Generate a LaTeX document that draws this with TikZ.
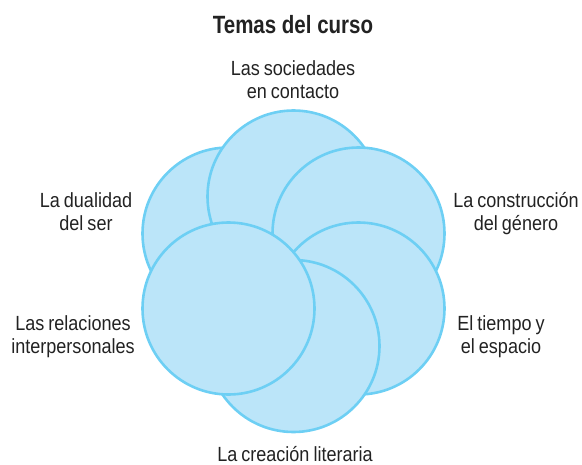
\documentclass[tikz,border=0pt]{standalone}
\usepackage{fontspec}
\setmainfont{Liberation Sans}
\newfontfamily\titlefont{Liberation Sans}[FakeStretch=0.82]
\newfontfamily\labelfont{Liberation Sans}[FakeStretch=0.88,WordSpace=0.8]
\definecolor{circfill}{HTML}{BBE5F9}
\definecolor{circline}{HTML}{6DCFF4}
\definecolor{txt}{HTML}{222222}
\begin{document}
\begin{tikzpicture}[x=1pt,y=-1pt,
  topic/.style={circle,draw=circline,fill=circfill,line width=2.6pt,minimum size=172pt,inner sep=0pt},
  lbl/.style={anchor=base,align=center,text=txt,font=\labelfont\fontsize{20.5}{23}\selectfont,inner sep=0pt},
  ttl/.style={anchor=base,text=txt,font=\titlefont\bfseries\fontsize{25}{28}\selectfont,inner sep=0pt}]
\useasboundingbox (0,0) rectangle (582,464);
% circles, back to front
\node[topic] (dualidad) at (228.5,233.5) {};
\node[topic] (sociedades) at (293.5,196.5) {};
\node[topic] (genero) at (358.5,233.5) {};
\node[topic] (tiempo) at (358.5,308.5) {};
\node[topic] (creacion) at (293.5,346) {};
\node[topic] (relaciones) at (228.5,308.5) {};
% title
\node[ttl] (title) at (293,33) {Temas del curso};
% labels
\node[lbl] (l1a) at (293,75) {Las sociedades};
\node[lbl] (l1b) at (293,98) {en contacto};
\node[lbl] (l2a) at (86,207) {La dualidad};
\node[lbl] (l2b) at (86,230) {del ser};
\node[lbl] (l3a) at (516,207) {La construcción};
\node[lbl] (l3b) at (516,230) {del género};
\node[lbl] (l4a) at (73,330) {Las relaciones};
\node[lbl] (l4b) at (73,353) {interpersonales};
\node[lbl] (l5a) at (501,330) {El tiempo y};
\node[lbl] (l5b) at (501,353) {el espacio};
\node[lbl] (l6) at (295,461) {La creación literaria};
\end{tikzpicture}
\end{document}
